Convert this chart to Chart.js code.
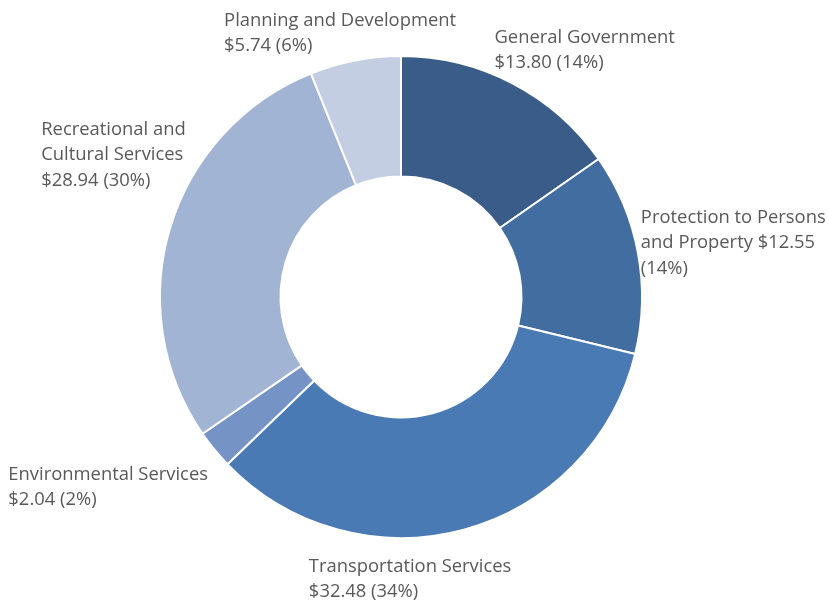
<!DOCTYPE html>
<html>
<head>
<meta charset="utf-8">
<script src="https://cdn.jsdelivr.net/npm/chart.js@4/dist/chart.umd.min.js"></script>
<style>
  html, body { margin: 0; padding: 0; background: #fff; }
  #wrap { width: 828px; height: 602px; }
</style>
</head>
<body>
<div id="wrap"><canvas id="chart" width="828" height="602"></canvas></div>
<script>
// Data
const categories = [
  "General Government",
  "Protection to Persons and Property",
  "Transportation Services",
  "Environmental Services",
  "Recreational and Cultural Services",
  "Planning and Development",
];
// dollar amounts and percents as printed in the labels
const amounts = ["$13.80", "$12.55", "$32.48", "$2.04", "$28.94", "$5.74"];
const percentLabels = ["14%", "14%", "34%", "2%", "30%", "6%"];
// share of the ring each slice takes in the picture (%)
const sliceShare = [15.3, 13.5, 34.0, 2.6, 28.5, 6.1];
const colors = ["#395c88", "#426da0", "#4a7ab4", "#7593c4", "#a2b4d4", "#c3cee2"];

// how each label wraps, as in the original
function labelLines(i) {
  const tail = `${amounts[i]} (${percentLabels[i]})`;
  switch (i) {
    case 1: return ["Protection to Persons", `and Property ${amounts[i]}`, `(${percentLabels[i]})`];
    case 4: return ["Recreational and", "Cultural Services", tail];
    default: return [categories[i], tail];
  }
}
// label offset from the middle of each slice's outer edge
const labelShift = [[-18, -46], [3, -35], [-155, 37], [-206, 25], [-129, -98], [-131, -40]];

const labelPlugin = {
  id: "sliceLabels",
  afterDraw(chart) {
    const c = chart.ctx;
    const meta = chart.getDatasetMeta(0);
    c.save();
    c.font = "18.4px 'Open Sans'";
    c.fillStyle = "#595959";
    c.textAlign = "left";
    c.textBaseline = "middle";
    meta.data.forEach((arc, i) => {
      const p = arc.getProps(["x", "y", "startAngle", "endAngle", "outerRadius"], true);
      const mid = (p.startAngle + p.endAngle) / 2;
      const x = p.x + Math.cos(mid) * p.outerRadius + labelShift[i][0];
      const y = p.y + Math.sin(mid) * p.outerRadius + labelShift[i][1];
      labelLines(i).forEach((line, j) => c.fillText(line, x, y + j * 25.5));
    });
    c.restore();
  },
};

const ctx = document.getElementById("chart").getContext("2d");
const chart = new Chart(ctx, {
  type: "doughnut",
  data: {
    labels: categories,
    datasets: [
      {
        data: sliceShare,
        backgroundColor: colors,
        borderColor: "#ffffff",
        borderWidth: 2,
        hoverOffset: 0,
      },
    ],
  },
  options: {
    responsive: false,
    animation: false,
    cutout: "50%",
    layout: { padding: { top: 55, bottom: 63, left: 0, right: 26 } },
    plugins: {
      legend: { display: false },
      tooltip: { enabled: false },
    },
  },
  plugins: [labelPlugin],
});
</script>
</body>
</html>
